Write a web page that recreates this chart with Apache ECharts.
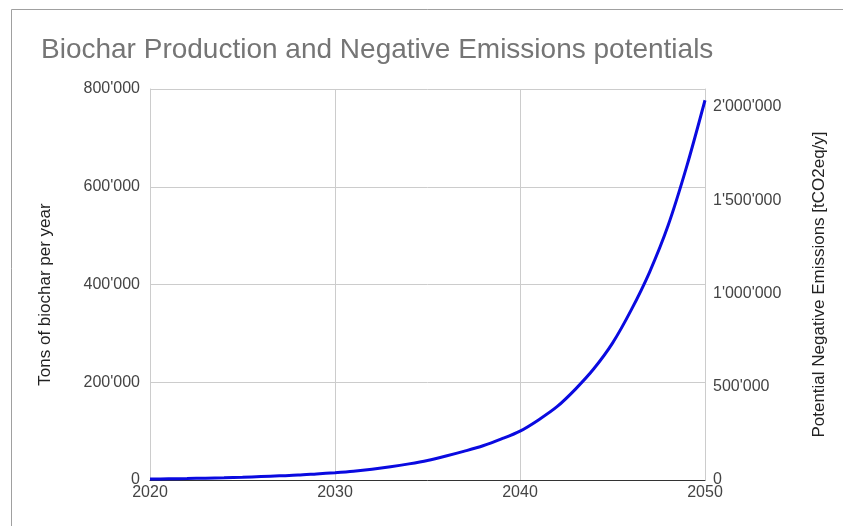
<!DOCTYPE html>
<html>
<head>
<meta charset="utf-8">
<script src="https://cdn.jsdelivr.net/npm/echarts@6/dist/echarts.min.js"></script>
<style>
  html, body { margin: 0; padding: 0; background: #fff; }
  #chart { width: 843px; height: 526px; }
</style>
</head>
<body>
<div id="chart"></div>
<script>
// Years and annual biochar production (tonnes per year)
const years = [2020, 2021, 2022, 2023, 2024, 2025, 2026, 2027, 2028, 2029,
               2030, 2031, 2032, 2033, 2034, 2035, 2036, 2037, 2038, 2039,
               2040, 2041, 2042, 2043, 2044, 2045, 2046, 2047, 2048, 2049, 2050];
const biocharTons = [2000, 2500, 3000, 3800, 4500, 5500, 7000, 8500, 10000, 12500,
                     15000, 18000, 22000, 27000, 33000, 40000, 49000, 59000, 70000, 84000,
                     100000, 123000, 150000, 186000, 228000, 280000, 347000, 425000, 520000, 640000, 777000];

// Axis settings
const xTicks = [2020, 2030, 2040, 2050];
const leftMax = 800000, leftStep = 200000;
const rightMax = 2096000, rightStep = 500000;

const title = 'Biochar Production and Negative Emissions potentials';
const leftName = 'Tons of biochar per year';
const rightName = 'Potential Negative Emissions [tCO2eq/y]';

function swissFormat(v) {
  return String(Math.round(v)).replace(/\B(?=(\d{3})+(?!\d))/g, "'");
}

const FONT = 'Liberation Sans, Arial, sans-serif';
const chart = echarts.init(document.getElementById('chart'), null, { renderer: 'canvas' });

chart.setOption({
  animation: false,
  backgroundColor: '#ffffff',
  title: {
    text: title,
    left: 36,
    top: 31,
    textStyle: { fontFamily: FONT, fontSize: 28, fontWeight: 'normal', color: '#757575' }
  },
  graphic: [{
    type: 'rect',
    shape: { x: 11.5, y: 9.5, width: 1000, height: 1000 },
    style: { fill: 'none', stroke: '#a0a0a0', lineWidth: 1 },
    silent: true
  }],
  grid: { left: 150, right: 138, top: 89, bottom: 46, containLabel: false },
  xAxis: {
    type: 'value',
    min: xTicks[0],
    max: xTicks[xTicks.length - 1],
    interval: 10,
    axisLine: { show: true, lineStyle: { color: '#333333', width: 1 } },
    axisTick: { show: false },
    axisLabel: {
      formatter: v => String(v),
      fontFamily: FONT, fontSize: 16, color: '#444444', margin: 5
    },
    splitLine: { show: true, lineStyle: { color: '#cccccc', width: 1 } }
  },
  yAxis: [{
    type: 'value',
    min: 0,
    max: leftMax,
    interval: leftStep,
    name: leftName,
    nameLocation: 'middle',
    nameGap: 96,
    nameTextStyle: { fontFamily: FONT, fontSize: 17, color: '#222222', padding: [0, 20, 0, 0] },
    axisLine: { show: true, lineStyle: { color: '#cccccc' } },
    axisTick: { show: false },
    axisLabel: {
      formatter: swissFormat,
      fontFamily: FONT, fontSize: 16, color: '#444444', margin: 10
    },
    splitLine: { show: true, lineStyle: { color: '#cccccc', width: 1 } }
  }, {
    type: 'value',
    position: 'right',
    min: 0,
    max: rightMax,
    interval: rightStep,
    name: rightName,
    nameLocation: 'middle',
    nameGap: 106,
    nameTextStyle: { fontFamily: FONT, fontSize: 17, color: '#222222' },
    axisLine: { show: true, lineStyle: { color: '#cccccc' } },
    axisTick: { show: false },
    axisLabel: {
      formatter: swissFormat,
      showMaxLabel: false,
      fontFamily: FONT, fontSize: 16, color: '#444444', margin: 8
    },
    splitLine: { show: false }
  }],
  series: [{
    type: 'line',
    yAxisIndex: 0,
    data: years.map((y, i) => [y, biocharTons[i]]),
    showSymbol: false,
    smooth: 0.3,
    lineStyle: { color: '#0a0ae0', width: 3 },
    z: 5
  }]
});
</script>
</body>
</html>
